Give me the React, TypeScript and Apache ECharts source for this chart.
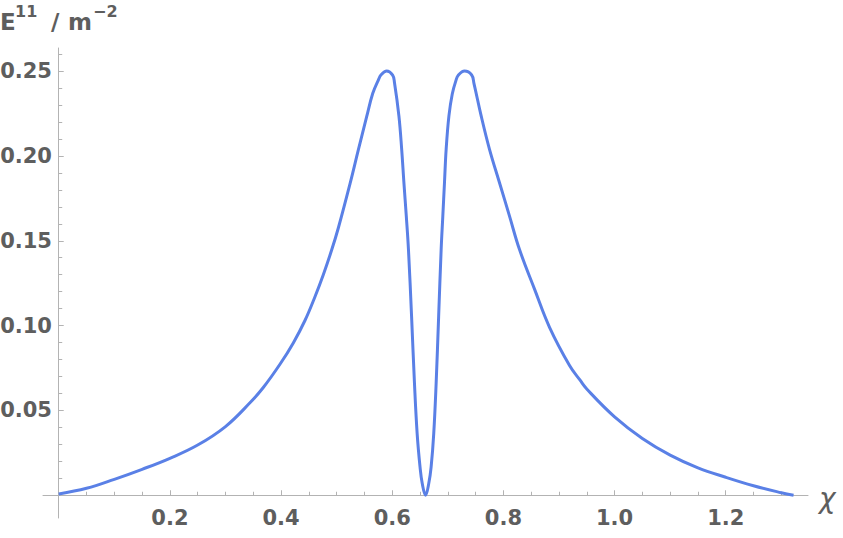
import React, { useEffect, useRef } from "react";
import * as echarts from "echarts";

// χ values
const xValues = [
  0.0, 0.05, 0.1, 0.15, 0.2, 0.25, 0.3, 0.344, 0.368, 0.398, 0.422, 0.443, 0.461, 0.476,
  0.491, 0.503, 0.524, 0.539, 0.554, 0.565, 0.575, 0.58, 0.59, 0.6007, 0.604, 0.612,
  0.617, 0.621, 0.6253, 0.6292, 0.6348, 0.64, 0.6448, 0.65, 0.654, 0.66, 0.6657, 0.67,
  0.6747, 0.679, 0.6835, 0.688, 0.691, 0.694, 0.697, 0.702, 0.708, 0.7147, 0.7188, 0.73,
  0.7429, 0.747, 0.76, 0.775, 0.793, 0.811, 0.829, 0.856, 0.883, 0.919, 0.938, 0.95, 1.0,
  1.05, 1.1, 1.15, 1.2, 1.25, 1.3, 1.322,
];
// E^11 values
const yValues = [
  0.0008, 0.0041, 0.0094, 0.0153, 0.0218, 0.0296, 0.0405, 0.0545, 0.0635, 0.0772, 0.0898,
  0.103, 0.117, 0.13, 0.1445, 0.1575, 0.1835, 0.2035, 0.2231, 0.2369, 0.2447, 0.2478, 0.25,
  0.2476, 0.2433, 0.2236, 0.2039, 0.1842, 0.1645, 0.1448, 0.1054, 0.066, 0.0365, 0.0167,
  0.0069, 0.0, 0.0069, 0.0167, 0.0365, 0.066, 0.1054, 0.1448, 0.1645, 0.1842, 0.2039,
  0.2236, 0.2365, 0.2445, 0.2475, 0.25, 0.2477, 0.2428, 0.2236, 0.2039, 0.1842, 0.1645,
  0.1448, 0.1215, 0.099, 0.0765, 0.0678, 0.0626, 0.0462, 0.0335, 0.0237, 0.0162, 0.0106,
  0.0056, 0.0015, 0.0,
];

const xTickLabels = [0.2, 0.4, 0.6, 0.8, 1.0, 1.2];
const xMinorTicks = [
  0.05, 0.1, 0.15, 0.25, 0.3, 0.35, 0.45, 0.5, 0.55, 0.65, 0.7, 0.75, 0.85, 0.9, 0.95,
  1.05, 1.1, 1.15, 1.25, 1.3,
];
const yTickLabels = [0.05, 0.1, 0.15, 0.2, 0.25];
const yMinorTicks = [
  0.01, 0.02, 0.03, 0.04, 0.06, 0.07, 0.08, 0.09, 0.11, 0.12, 0.13, 0.14, 0.16, 0.17,
  0.18, 0.19, 0.21, 0.22, 0.23, 0.24, 0.26,
];
const xRange = [-0.0283, 1.348];
const yRange = [-0.0134, 0.2636];

const AXIS_COLOR = "#b3b3b3";
const TEXT_COLOR = "#5e5e5e";
const LINE_COLOR = "#5a80e6";
const FONT = "DejaVu Sans";

function makeXAxis(gridIndex: number, major: boolean) {
  return {
    type: "value",
    gridIndex,
    position: "bottom",
    min: xRange[0],
    max: xRange[1],
    axisLine: { show: major, onZero: true, lineStyle: { color: AXIS_COLOR, width: 1 } },
    axisTick: {
      show: true,
      inside: true,
      length: major ? 5 : 3.5,
      customValues: major ? xTickLabels : xMinorTicks,
      lineStyle: { color: AXIS_COLOR, width: 1 },
    },
    axisLabel: {
      show: major,
      customValues: xTickLabels,
      formatter: (v: number) => v.toFixed(1),
      fontFamily: FONT,
      fontWeight: "bold",
      fontSize: 21,
      color: TEXT_COLOR,
      margin: -11,
    },
    splitLine: { show: false },
    minorTick: { show: false },
  };
}

function makeYAxis(gridIndex: number, major: boolean) {
  return {
    type: "value",
    gridIndex,
    position: "left",
    min: yRange[0],
    max: yRange[1],
    axisLine: { show: major, onZero: true, lineStyle: { color: AXIS_COLOR, width: 1 } },
    axisTick: {
      show: true,
      inside: true,
      length: major ? 5 : 3.5,
      customValues: major ? yTickLabels : yMinorTicks,
      lineStyle: { color: AXIS_COLOR, width: 1 },
    },
    axisLabel: {
      show: major,
      customValues: yTickLabels,
      formatter: (v: number) => v.toFixed(2),
      fontFamily: FONT,
      fontWeight: "bold",
      fontSize: 21,
      color: TEXT_COLOR,
      margin: -9,
    },
    splitLine: { show: false },
    minorTick: { show: false },
  };
}

export default function App() {
  const ref = useRef<HTMLDivElement>(null);

  useEffect(() => {
    document.body.style.margin = "0";
    if (!ref.current) return;
    const chart = echarts.init(ref.current, null, { renderer: "svg" });
    const gridBox = { left: 43, top: 48, width: 765, height: 470, outerBoundsMode: "none" };
    chart.setOption({
      animation: false,
      backgroundColor: "#ffffff",
      grid: [gridBox, { ...gridBox }],
      xAxis: [makeXAxis(0, true), makeXAxis(1, false)],
      yAxis: [makeYAxis(0, true), makeYAxis(1, false)],
      series: [
        {
          type: "line",
          xAxisIndex: 0,
          yAxisIndex: 0,
          data: xValues.map((x, i) => [x, yValues[i]]),
          showSymbol: false,
          smooth: 0.4,
          lineStyle: { color: LINE_COLOR, width: 3 },
          z: 5,
        },
      ],
      graphic: [
        {
          type: "text",
          x: 0,
          y: 22,
          style: { text: "E", font: `bold 23px '${FONT}'`, fill: TEXT_COLOR, verticalAlign: "middle" },
        },
        {
          type: "text",
          x: 15,
          y: 11,
          style: { text: "11", font: `bold 16px '${FONT}'`, fill: TEXT_COLOR, verticalAlign: "middle" },
        },
        {
          type: "text",
          x: 51,
          y: 22,
          style: { text: "/", font: `bold 23px '${FONT}'`, fill: TEXT_COLOR, verticalAlign: "middle" },
        },
        {
          type: "text",
          x: 68,
          y: 22,
          style: { text: "m", font: `bold 23px '${FONT}'`, fill: TEXT_COLOR, verticalAlign: "middle" },
        },
        {
          type: "text",
          x: 93,
          y: 11,
          style: { text: "−2", font: `bold 16px '${FONT}'`, fill: TEXT_COLOR, verticalAlign: "middle" },
        },
        {
          type: "text",
          x: 819,
          y: 498,
          style: { text: "χ", font: `italic 28px '${FONT}'`, fill: TEXT_COLOR, verticalAlign: "middle" },
        },
      ],
    });
    return () => chart.dispose();
  }, []);

  return <div ref={ref} style={{ width: 843, height: 538 }} />;
}
